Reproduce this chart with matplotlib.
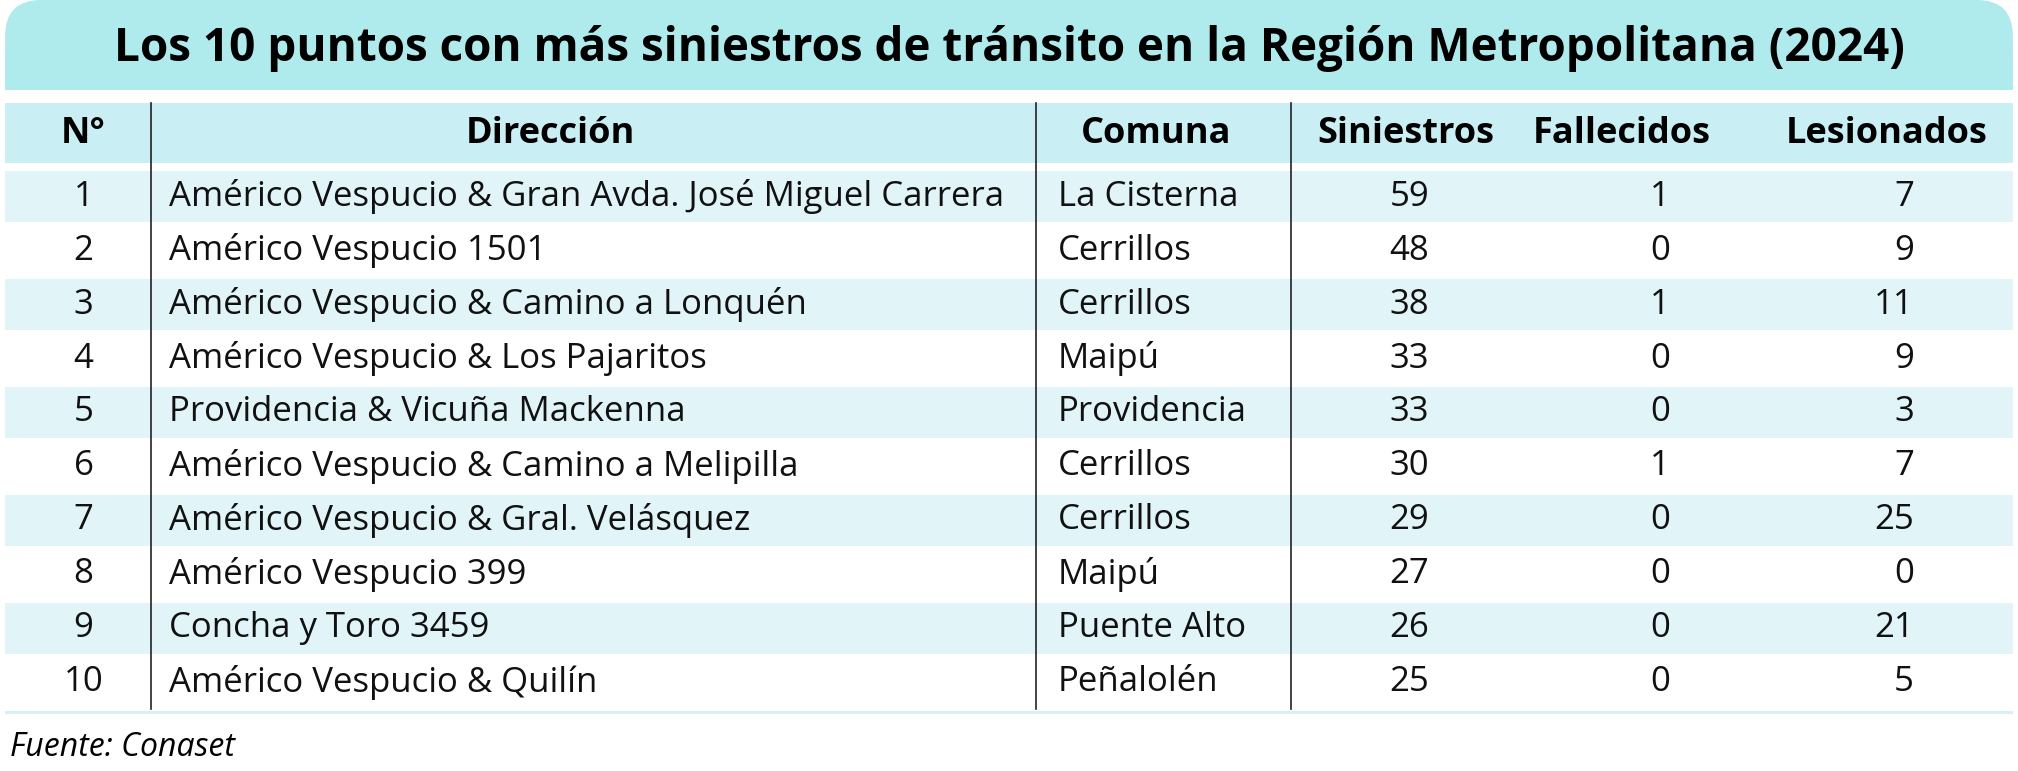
import matplotlib
matplotlib.use("Agg")
import matplotlib.pyplot as plt
from matplotlib.patches import FancyBboxPatch, Rectangle

title = "Los 10 puntos con más siniestros de tránsito en la Región Metropolitana (2024)"
headers = ["N°", "Dirección", "Comuna", "Siniestros", "Fallecidos", "Lesionados"]
numeros = [1, 2, 3, 4, 5, 6, 7, 8, 9, 10]
direcciones = ["Américo Vespucio & Gran Avda. José Miguel Carrera", "Américo Vespucio 1501",
               "Américo Vespucio & Camino a Lonquén", "Américo Vespucio & Los Pajaritos",
               "Providencia & Vicuña Mackenna", "Américo Vespucio & Camino a Melipilla",
               "Américo Vespucio & Gral. Velásquez", "Américo Vespucio 399",
               "Concha y Toro 3459", "Américo Vespucio & Quilín"]
comunas = ["La Cisterna", "Cerrillos", "Cerrillos", "Maipú", "Providencia", "Cerrillos",
           "Cerrillos", "Maipú", "Puente Alto", "Peñalolén"]
siniestros = [59, 48, 38, 33, 33, 30, 29, 27, 26, 25]
fallecidos = [1, 0, 1, 0, 0, 1, 0, 0, 0, 0]
lesionados = [7, 9, 11, 9, 3, 7, 25, 0, 21, 5]
fuente = "Fuente: Conaset"

plt.rcParams['font.family'] = ['Open Sans', 'DejaVu Sans']
fig = plt.figure(figsize=(20.18, 7.71), dpi=100)
ax = fig.add_axes([0, 0, 1, 1])
ax.set_xlim(0, 1568); ax.set_ylim(600, 0); ax.axis('off')

# title band
ax.add_patch(FancyBboxPatch((4, 0), 1560, 110, boxstyle="round,pad=0,rounding_size=28",
                            fc="#afeaed", ec="none", mutation_aspect=1))
ax.add_patch(Rectangle((4, 40), 1560, 30, fc="#afeaed", ec="none"))
ax.add_patch(Rectangle((0, 70), 1568, 60, fc="white", ec="none"))
ax.text(784, 38, title, ha='center', va='center', fontsize=33, fontweight='bold', color='black')

# header
ax.add_patch(Rectangle((4, 80), 1560, 47, fc="#c9eff4", ec="none"))
hx = [65, 428, 898, 1092, 1260, 1466]
for x, h in zip(hx, headers):
    ax.text(x, 104, h, ha='center', va='center', fontsize=26, fontweight='bold')

top, rh = 132, 42
for i in range(10):
    y0 = top + i * rh
    if i % 2 == 0:
        ax.add_patch(Rectangle((4, y0 + 1), 1560, rh - 2, fc="#e1f5f8", ec="none"))
    yc = y0 + rh / 2
    kw = dict(va='center', fontsize=25, color='#111111')
    ax.text(65, yc, str(numeros[i]), ha='center', **kw)
    ax.text(131, yc, direcciones[i], ha='left', **kw)
    ax.text(822, yc, comunas[i], ha='left', **kw)
    ax.text(1095, yc, str(siniestros[i]), ha='center', **kw)
    ax.text(1290, yc, str(fallecidos[i]), ha='center', **kw)
    ax.text(1487, yc, str(lesionados[i]), ha='right', **kw)

ax.add_patch(Rectangle((4, top + 10 * rh + 1), 1560, 3, fc="#d5f1f5", ec="none"))
for x in [117, 805, 1003]:
    ax.plot([x, x], [80, top + 10 * rh], color='#222222', lw=1.2)

ax.text(8, 582, fuente, ha='left', va='center', fontsize=23, fontstyle='italic')
fig.savefig("out.png", dpi=100)
